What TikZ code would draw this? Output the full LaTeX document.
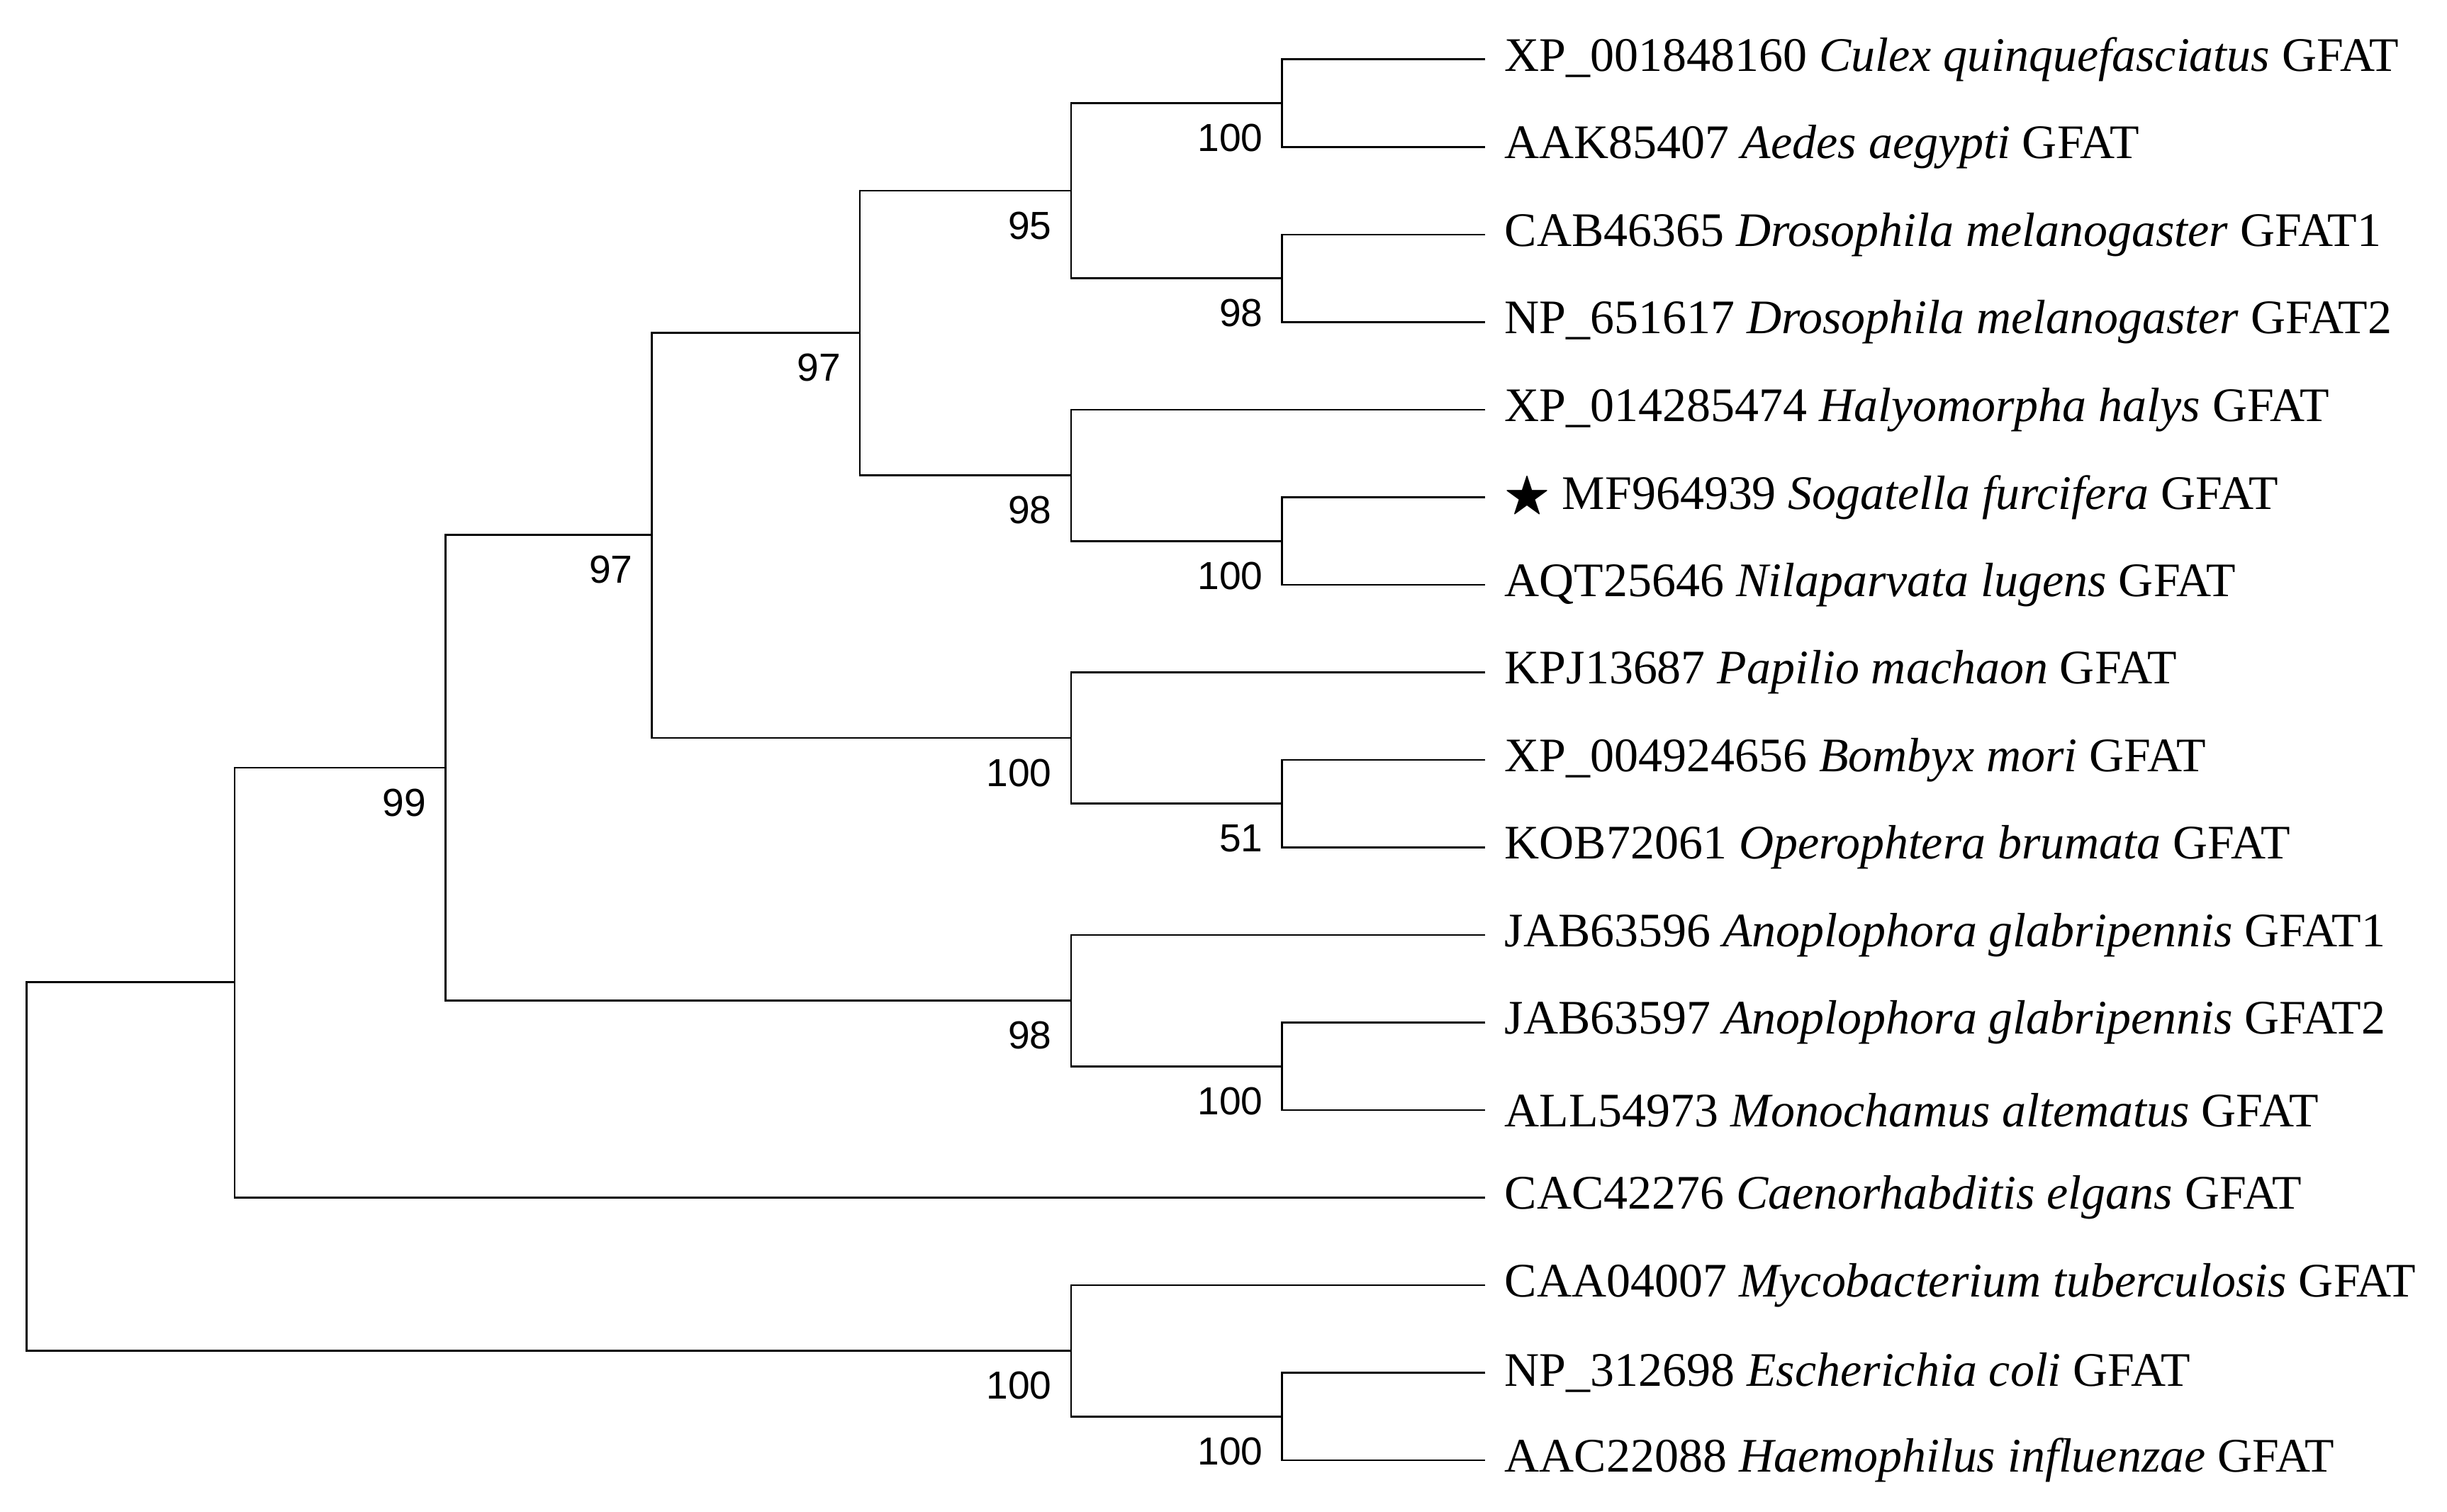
\documentclass[tikz,border=0pt]{standalone}
\usepackage{amssymb}
\usepackage{fontspec}
\setmainfont{Liberation Serif}
\newfontfamily\numfont{Liberation Sans}
\begin{document}
\begin{tikzpicture}[x=0.5pt,y=-0.5pt,
  br/.style={draw=black,line width=0.6pt},
  leaflab/.style={anchor=west,inner sep=0pt,font=\fontsize{15.4}{17}\selectfont},
  boot/.style={anchor=north east,inner sep=0pt,font=\numfont\fontsize{12.5}{14}\selectfont}]
\useasboundingbox (0,0) rectangle (1565,967);
% leaves
\foreach \n/\y/\t in {
 l1/38/{XP\_001848160 \textit{Culex quinquefasciatus} GFAT},
 l2/94/{AAK85407 \textit{Aedes aegypti} GFAT},
 l3/150/{CAB46365 \textit{Drosophila melanogaster} GFAT1},
 l4/206/{NP\_651617 \textit{Drosophila melanogaster} GFAT2},
 l5/262/{XP\_014285474 \textit{Halyomorpha halys} GFAT},
 l6/318/{$\bigstar$ MF964939 \textit{Sogatella furcifera} GFAT},
 l7/374/{AQT25646 \textit{Nilaparvata lugens} GFAT},
 l8/430/{KPJ13687 \textit{Papilio machaon} GFAT},
 l9/486/{XP\_004924656 \textit{Bombyx mori} GFAT},
 l10/542/{KOB72061 \textit{Operophtera brumata} GFAT},
 l11/598/{JAB63596 \textit{Anoplophora glabripennis} GFAT1},
 l12/654/{JAB63597 \textit{Anoplophora glabripennis} GFAT2},
 l13/710/{ALL54973 \textit{Monochamus altematus} GFAT},
 l14/766/{CAC42276 \textit{Caenorhabditis elgans} GFAT},
 l15/822/{CAA04007 \textit{Mycobacterium tuberculosis} GFAT},
 l16/878/{NP\_312698 \textit{Escherichia coli} GFAT},
 l17/934/{AAC22088 \textit{Haemophilus influenzae} GFAT}}{
  \coordinate (\n) at (950,\y);
  \node[leaflab] (t\n) at (962,\y) {\t};
}
% internal nodes
\coordinate (n1) at (820,66);
\coordinate (n2) at (820,178);
\coordinate (nA) at (685,122);
\coordinate (n3) at (820,346);
\coordinate (n4) at (685,304);
\coordinate (nB) at (550,213);
\coordinate (n5) at (820,514);
\coordinate (n6) at (685,472);
\coordinate (nC) at (417,342);
\coordinate (n7) at (820,682);
\coordinate (n8) at (685,640);
\coordinate (nD) at (285,491);
\coordinate (nE) at (150,628);
\coordinate (n9) at (820,906);
\coordinate (n10) at (685,864);
\coordinate (nR) at (17,746);
\foreach \p/\a/\b in {n1/l1/l2,n2/l3/l4,nA/n1/n2,n3/l6/l7,n4/l5/n3,nB/nA/n4,
  n5/l9/l10,n6/l8/n5,nC/nB/n6,n7/l12/l13,n8/l11/n7,nD/nC/n8,nE/nD/l14,
  n9/l16/l17,n10/l15/n9,nR/nE/n10}{
  \draw[br] (\a) -| (\p) |- (\b);
}
% bootstrap values
\foreach \p/\v in {n1/100,n2/98,nA/95,n3/100,n4/98,nB/97,n5/51,n6/100,nC/97,
  n7/100,n8/98,nD/99,n9/100,n10/100}{
  \node[boot] (b\p) at ([xshift=-6pt,yshift=-6.5pt]\p) {\v};
}
\end{tikzpicture}
\end{document}
